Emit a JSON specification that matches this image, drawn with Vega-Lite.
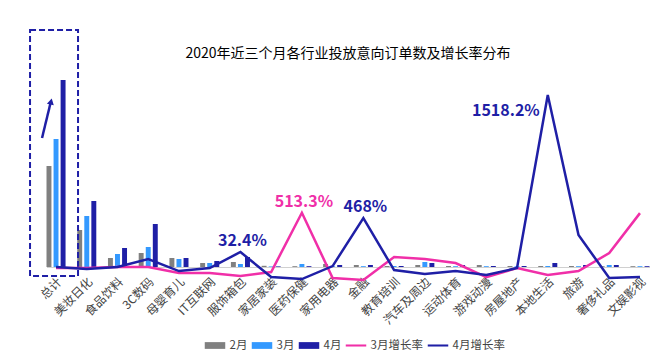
{
  "$schema": "https://vega.github.io/schema/vega-lite/v6.json",
  "width": 603,
  "height": 197,
  "autosize": {"type": "none"},
  "padding": {"left": 46.5, "top": 70, "right": 3.5, "bottom": 93},
  "background": "white",
  "config": {
    "font": "Noto Sans CJK SC",
    "view": {"stroke": null},
    "axisX": {"labelAngle": -45, "labelFontSize": 12, "labelColor": "#444", "labelPadding": 9, "ticks": false, "domainColor": "#d0d0d0", "domainWidth": 1, "title": null, "grid": false, "labelFont": "Noto Sans CJK SC"}
  },
  "title": {"text": "2020年近三个月各行业投放意向订单数及增长率分布", "fontSize": 14, "fontWeight": "normal", "color": "#000", "anchor": "middle", "frame": "group", "offset": 12, "dy": 44, "font": "Noto Sans CJK SC"},
  "datasets": {
    "bars": [
      {"category": "总计", "month": "2月", "count": 1010}, {"category": "总计", "month": "3月", "count": 1280}, {"category": "总计", "month": "4月", "count": 1870},
      {"category": "美妆日化", "month": "2月", "count": 370}, {"category": "美妆日化", "month": "3月", "count": 510}, {"category": "美妆日化", "month": "4月", "count": 660},
      {"category": "食品饮料", "month": "2月", "count": 90}, {"category": "食品饮料", "month": "3月", "count": 130}, {"category": "食品饮料", "month": "4月", "count": 190},
      {"category": "3C数码", "month": "2月", "count": 140}, {"category": "3C数码", "month": "3月", "count": 200}, {"category": "3C数码", "month": "4月", "count": 430},
      {"category": "母婴育儿", "month": "2月", "count": 90}, {"category": "母婴育儿", "month": "3月", "count": 80}, {"category": "母婴育儿", "month": "4月", "count": 90},
      {"category": "IT互联网", "month": "2月", "count": 40}, {"category": "IT互联网", "month": "3月", "count": 40}, {"category": "IT互联网", "month": "4月", "count": 60},
      {"category": "服饰箱包", "month": "2月", "count": 50}, {"category": "服饰箱包", "month": "3月", "count": 30}, {"category": "服饰箱包", "month": "4月", "count": 100},
      {"category": "家居家装", "month": "2月", "count": 12}, {"category": "家居家装", "month": "3月", "count": 6}, {"category": "家居家装", "month": "4月", "count": 6},
      {"category": "医药保健", "month": "2月", "count": 8}, {"category": "医药保健", "month": "3月", "count": 30}, {"category": "医药保健", "month": "4月", "count": 8},
      {"category": "家用电器", "month": "2月", "count": 30}, {"category": "家用电器", "month": "3月", "count": 8}, {"category": "家用电器", "month": "4月", "count": 20},
      {"category": "金融", "month": "2月", "count": 20}, {"category": "金融", "month": "3月", "count": 8}, {"category": "金融", "month": "4月", "count": 20},
      {"category": "教育培训", "month": "2月", "count": 10}, {"category": "教育培训", "month": "3月", "count": 10}, {"category": "教育培训", "month": "4月", "count": 10},
      {"category": "汽车及周边", "month": "2月", "count": 20}, {"category": "汽车及周边", "month": "3月", "count": 50}, {"category": "汽车及周边", "month": "4月", "count": 40},
      {"category": "运动体育", "month": "2月", "count": 10}, {"category": "运动体育", "month": "3月", "count": 8}, {"category": "运动体育", "month": "4月", "count": 20},
      {"category": "游戏动漫", "month": "2月", "count": 20}, {"category": "游戏动漫", "month": "3月", "count": 8}, {"category": "游戏动漫", "month": "4月", "count": 10},
      {"category": "房屋地产", "month": "2月", "count": 10}, {"category": "房屋地产", "month": "3月", "count": 8}, {"category": "房屋地产", "month": "4月", "count": 10},
      {"category": "本地生活", "month": "2月", "count": 10}, {"category": "本地生活", "month": "3月", "count": 10}, {"category": "本地生活", "month": "4月", "count": 40},
      {"category": "旅游", "month": "2月", "count": 10}, {"category": "旅游", "month": "3月", "count": 8}, {"category": "旅游", "month": "4月", "count": 20},
      {"category": "奢侈礼品", "month": "2月", "count": 8}, {"category": "奢侈礼品", "month": "3月", "count": 20}, {"category": "奢侈礼品", "month": "4月", "count": 20},
      {"category": "文娱影视", "month": "2月", "count": 8}, {"category": "文娱影视", "month": "3月", "count": 8}, {"category": "文娱影视", "month": "4月", "count": 8}
    ],
    "lines": [
      {"category": "总计", "series": "3月增长率", "rate": 41}, {"category": "美妆日化", "series": "3月增长率", "rate": 41},
      {"category": "食品饮料", "series": "3月增长率", "rate": 50}, {"category": "3C数码", "series": "3月增长率", "rate": 50},
      {"category": "母婴育儿", "series": "3月增长率", "rate": -2}, {"category": "IT互联网", "series": "3月增长率", "rate": -2},
      {"category": "服饰箱包", "series": "3月增长率", "rate": -27}, {"category": "家居家装", "series": "3月增长率", "rate": 7},
      {"category": "医药保健", "series": "3月增长率", "rate": 513.3, "label": "513.3%"}, {"category": "家用电器", "series": "3月增长率", "rate": -44},
      {"category": "金融", "series": "3月增长率", "rate": -61}, {"category": "教育培训", "series": "3月增长率", "rate": 135},
      {"category": "汽车及周边", "series": "3月增长率", "rate": 118}, {"category": "运动体育", "series": "3月增长率", "rate": 84},
      {"category": "游戏动漫", "series": "3月增长率", "rate": -36}, {"category": "房屋地产", "series": "3月增长率", "rate": 41},
      {"category": "本地生活", "series": "3月增长率", "rate": -19}, {"category": "旅游", "series": "3月增长率", "rate": 15},
      {"category": "奢侈礼品", "series": "3月增长率", "rate": 169}, {"category": "文娱影视", "series": "3月增长率", "rate": 510},
      {"category": "总计", "series": "4月增长率", "rate": 50}, {"category": "美妆日化", "series": "4月增长率", "rate": 32},
      {"category": "食品饮料", "series": "4月增长率", "rate": 50}, {"category": "3C数码", "series": "4月增长率", "rate": 118},
      {"category": "母婴育儿", "series": "4月增长率", "rate": 15}, {"category": "IT互联网", "series": "4月增长率", "rate": 41},
      {"category": "服饰箱包", "series": "4月增长率", "rate": 178, "label": "32.4%"}, {"category": "家居家装", "series": "4月增长率", "rate": -36},
      {"category": "医药保健", "series": "4月增长率", "rate": -53}, {"category": "家用电器", "series": "4月增长率", "rate": 58},
      {"category": "金融", "series": "4月增长率", "rate": 468, "label": "468%"}, {"category": "教育培训", "series": "4月增长率", "rate": 24},
      {"category": "汽车及周边", "series": "4月增长率", "rate": -10}, {"category": "运动体育", "series": "4月增长率", "rate": 15},
      {"category": "游戏动漫", "series": "4月增长率", "rate": -19}, {"category": "房屋地产", "series": "4月增长率", "rate": 41},
      {"category": "本地生活", "series": "4月增长率", "rate": 1518.2, "label": "1518.2%"}, {"category": "旅游", "series": "4月增长率", "rate": 323},
      {"category": "奢侈礼品", "series": "4月增长率", "rate": -44}, {"category": "文娱影视", "series": "4月增长率", "rate": -36}
    ]
  },
  "encoding": {
    "x": {
      "field": "category", "type": "nominal", "title": null,
      "scale": {
        "domain": ["总计", "美妆日化", "食品饮料", "3C数码", "母婴育儿", "IT互联网", "服饰箱包", "家居家装", "医药保健", "家用电器", "金融", "教育培训", "汽车及周边", "运动体育", "游戏动漫", "房屋地产", "本地生活", "旅游", "奢侈礼品", "文娱影视"],
        "paddingInner": 0.38, "paddingOuter": 0
      }
    }
  },
  "layer": [
    {
      "layer": [
        {
          "data": {"name": "bars"},
          "mark": {"type": "bar"},
          "encoding": {
            "x": {"field": "category", "type": "nominal"},
            "xOffset": {"field": "month", "type": "nominal", "scale": {"paddingInner": 0.3}},
            "y": {"field": "count", "type": "quantitative", "axis": null, "scale": {"domain": [0, 1970], "nice": false}},
            "color": {
              "field": "month", "type": "nominal",
              "scale": {"domain": ["2月", "3月", "4月", "3月增长率", "4月增长率"], "range": ["#808080", "#3399ff", "#1f1fa6", "#f02fa8", "#1f1fa6"]},
              "legend": {
                "orient": "none", "legendX": 158, "legendY": 265, "direction": "horizontal", "title": null,
                "symbolSize": 420, "labelFontSize": 11.5, "labelColor": "#444", "labelOffset": 4, "columnPadding": 4,
                "labelFont": "Noto Sans CJK SC",
                "encode": {
                  "symbols": {
                    "update": {
                      "shape": {"signal": "indexof(datum.value, '增长率') >= 0 ? 'M-1,-0.1H1V0.1H-1Z' : 'M-1,-0.33H1V0.33H-1Z'"},
                      "fill": {"scale": "color", "field": "value"},
                      "strokeWidth": {"value": 0},
                      "opacity": {"value": 1}
                    }
                  }
                }
              }
            }
          }
        },
        {
          "data": {"values": [{}]},
          "mark": {"type": "bar", "width": 48, "xOffset": -2, "fill": "transparent", "stroke": "#1f1fa6", "strokeWidth": 2, "strokeDash": [6, 3]},
          "encoding": {
            "x": {"datum": "总计"},
            "y": {"datum": 2370},
            "y2": {"datum": -90}
          }
        },
        {
          "data": {"values": [{}]},
          "mark": {"type": "rule", "xOffset": -14, "x2Offset": -5.5, "stroke": "#1f1fa6", "strokeWidth": 2.5},
          "encoding": {
            "x": {"datum": "总计"},
            "x2": {"datum": "总计"},
            "y": {"datum": 1290},
            "y2": {"datum": 1640}
          }
        },
        {
          "data": {"values": [{}]},
          "mark": {"type": "point", "shape": "triangle-up", "filled": true, "size": 50, "angle": 13, "xOffset": -5, "color": "#1f1fa6", "opacity": 1},
          "encoding": {
            "x": {"datum": "总计"},
            "y": {"datum": 1655}
          }
        }
      ]
    },
    {
      "data": {"name": "lines"},
      "layer": [
        {
          "mark": {"type": "line", "strokeWidth": 2.5},
          "encoding": {
            "x": {"field": "category", "type": "nominal"},
            "y": {"field": "rate", "type": "quantitative", "axis": null, "scale": {"domain": [50, 1732], "nice": false, "zero": false}},
            "color": {"field": "series", "type": "nominal"}
          }
        },
        {
          "transform": [{"filter": "datum.label && datum.label != '1518.2%'"}],
          "mark": {"type": "text", "fontSize": 16, "fontWeight": "bold", "align": "center", "baseline": "middle", "dy": -11, "dx": 2},
          "encoding": {
            "x": {"field": "category", "type": "nominal"},
            "y": {"field": "rate", "type": "quantitative"},
            "text": {"field": "label"},
            "color": {"field": "series", "type": "nominal"}
          }
        },
        {
          "transform": [{"filter": "datum.label == '1518.2%'"}],
          "mark": {"type": "text", "fontSize": 16, "fontWeight": "bold", "align": "right", "baseline": "middle", "dx": -8, "dy": 16},
          "encoding": {
            "x": {"field": "category", "type": "nominal"},
            "y": {"field": "rate", "type": "quantitative"},
            "text": {"field": "label"},
            "color": {"field": "series", "type": "nominal"}
          }
        }
      ]
    }
  ],
  "resolve": {"scale": {"y": "independent"}}
}
